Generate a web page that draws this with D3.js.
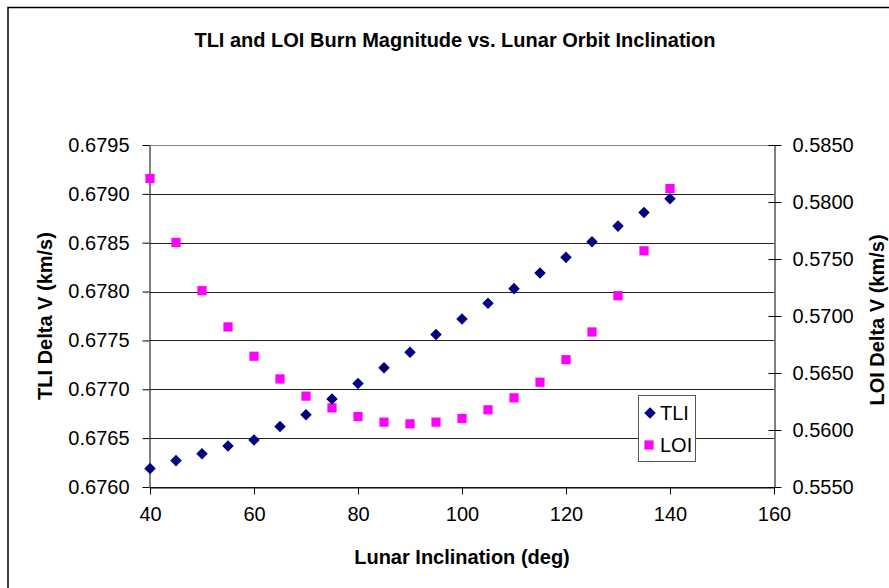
<!DOCTYPE html>
<html>
<head>
<meta charset="utf-8">
<script src="https://cdn.jsdelivr.net/npm/d3@7"></script>
<style>
  html, body { margin: 0; padding: 0; background: #fff; }
  svg { display: block; font-family: "Liberation Sans", Arial, sans-serif; }
</style>
</head>
<body>
<div id="chart"></div>
<script>
// lunar inclination (deg)
const inclination = [40, 45, 50, 55, 60, 65, 70, 75, 80, 85, 90, 95, 100, 105, 110, 115, 120, 125, 130, 135, 140];
// TLI delta V (km/s), left axis
const tliValues = [0.67619, 0.67627, 0.67634, 0.67642, 0.67648, 0.67662, 0.67674, 0.67690, 0.67706, 0.67722,
  0.67738, 0.67756, 0.67772, 0.67788, 0.67803, 0.67819, 0.67835, 0.67851, 0.67867, 0.67881, 0.67895];
// LOI delta V (km/s), right axis
const loiValues = [0.58206, 0.57645, 0.57222, 0.56904, 0.56647, 0.56448, 0.56297, 0.56194, 0.56118, 0.56069,
  0.56054, 0.56069, 0.56101, 0.56177, 0.56282, 0.56419, 0.56617, 0.56860, 0.57178, 0.57572, 0.58118];

const xTicks = [40, 60, 80, 100, 120, 140, 160];
const leftTicks = [0.6760, 0.6765, 0.6770, 0.6775, 0.6780, 0.6785, 0.6790, 0.6795];
const rightTicks = [0.5550, 0.5600, 0.5650, 0.5700, 0.5750, 0.5800, 0.5850];

const WIDTH = 889;
const HEIGHT = 588;
const PLOT = { left: 150, right: 774, top: 145, bottom: 487 };
const TLI_COLOR = "#000080";
const LOI_COLOR = "#ff00ff";

const svg = d3
  .select("#chart")
  .append("svg")
  .attr("width", WIDTH)
  .attr("height", HEIGHT);

// outer chart frame (runs off the bottom/right edge)
svg
  .append("rect")
  .attr("x", 8)
  .attr("y", 7.5)
  .attr("width", 920)
  .attr("height", 620)
  .attr("fill", "#fff")
  .attr("stroke", "#000")
  .attr("stroke-width", 1.5);

const x = d3.scaleLinear().domain([40, 160]).range([PLOT.left, PLOT.right]);
const yLeft = d3.scaleLinear().domain([0.676, 0.6795]).range([PLOT.bottom, PLOT.top]);
const yRight = d3.scaleLinear().domain([0.555, 0.585]).range([PLOT.bottom, PLOT.top]);

// horizontal gridlines
svg
  .append("g")
  .selectAll("line")
  .data(leftTicks)
  .join("line")
  .attr("x1", PLOT.left)
  .attr("x2", PLOT.right)
  .attr("y1", (d) => Math.round(yLeft(d)) + 0.5)
  .attr("y2", (d) => Math.round(yLeft(d)) + 0.5)
  .attr("stroke", (d, i) => (i === leftTicks.length - 1 ? "#808080" : "#222"))
  .attr("stroke-width", 1);

function styleAxis(g) {
  g.select(".domain").attr("stroke", "#000");
  g.selectAll(".tick line").attr("stroke", "#000");
  g.selectAll(".tick text")
    .attr("fill", "#000")
    .attr("font-size", 20);
}

svg
  .append("g")
  .attr("transform", `translate(0,${PLOT.bottom + 0.5})`)
  .call(d3.axisBottom(x).tickValues(xTicks).tickSize(7).tickSizeOuter(0).tickPadding(12))
  .call(styleAxis);

svg
  .append("g")
  .attr("transform", `translate(${PLOT.left - 0.5},0)`)
  .call(d3.axisLeft(yLeft).tickValues(leftTicks).tickFormat(d3.format(".4f")).tickSize(7).tickSizeOuter(0).tickPadding(13))
  .call(styleAxis);

const rightAxis = svg
  .append("g")
  .attr("transform", `translate(${PLOT.right + 0.5},0)`)
  .call(d3.axisRight(yRight).tickValues(rightTicks).tickFormat(d3.format(".4f")).tickSize(7).tickSizeOuter(0).tickPadding(11))
  .call(styleAxis);
// right axis ticks cross the axis line
rightAxis.selectAll(".tick line").attr("x1", -6);

// titles
svg
  .append("text")
  .attr("x", 455)
  .attr("y", 47)
  .attr("text-anchor", "middle")
  .attr("font-size", 20)
  .attr("font-weight", "bold")
  .text("TLI and LOI Burn Magnitude vs. Lunar Orbit Inclination");

svg
  .append("text")
  .attr("x", (PLOT.left + PLOT.right) / 2)
  .attr("y", 564)
  .attr("text-anchor", "middle")
  .attr("font-size", 20)
  .attr("font-weight", "bold")
  .text("Lunar Inclination (deg)");

const midY = (PLOT.top + PLOT.bottom) / 2;
svg
  .append("text")
  .attr("transform", `translate(52,${midY}) rotate(-90)`)
  .attr("text-anchor", "middle")
  .attr("font-size", 20)
  .attr("font-weight", "bold")
  .text("TLI Delta V (km/s)");

svg
  .append("text")
  .attr("transform", `translate(884,${midY + 4}) rotate(-90)`)
  .attr("text-anchor", "middle")
  .attr("font-size", 20)
  .attr("font-weight", "bold")
  .text("LOI Delta V (km/s)");

// markers
const diamond = d3.symbol().type(d3.symbolDiamond2).size(85);
const square = d3.symbol().type(d3.symbolSquare).size(85);

const tliPoints = inclination.map((inc, i) => ({ inc, value: tliValues[i] }));
const loiPoints = inclination.map((inc, i) => ({ inc, value: loiValues[i] }));

svg
  .append("g")
  .selectAll("path")
  .data(loiPoints)
  .join("path")
  .attr("d", square)
  .attr("transform", (d) => `translate(${x(d.inc)},${yRight(d.value)})`)
  .attr("fill", LOI_COLOR);

svg
  .append("g")
  .selectAll("path")
  .data(tliPoints)
  .join("path")
  .attr("d", diamond)
  .attr("transform", (d) => `translate(${x(d.inc)},${yLeft(d.value)})`)
  .attr("fill", TLI_COLOR);

// legend
const legend = svg.append("g").attr("transform", "translate(638,395)");
legend
  .append("rect")
  .attr("x", 0.5)
  .attr("y", 0.5)
  .attr("width", 57)
  .attr("height", 66)
  .attr("fill", "#fff")
  .attr("stroke", "#555");
legend
  .append("path")
  .attr("d", diamond)
  .attr("transform", "translate(12,18)")
  .attr("fill", TLI_COLOR);
legend
  .append("path")
  .attr("d", square)
  .attr("transform", "translate(11,50)")
  .attr("fill", LOI_COLOR);
legend
  .append("text")
  .attr("x", 22)
  .attr("y", 25)
  .attr("font-size", 20)
  .text("TLI");
legend
  .append("text")
  .attr("x", 22)
  .attr("y", 57)
  .attr("font-size", 20)
  .text("LOI");
</script>
</body>
</html>
